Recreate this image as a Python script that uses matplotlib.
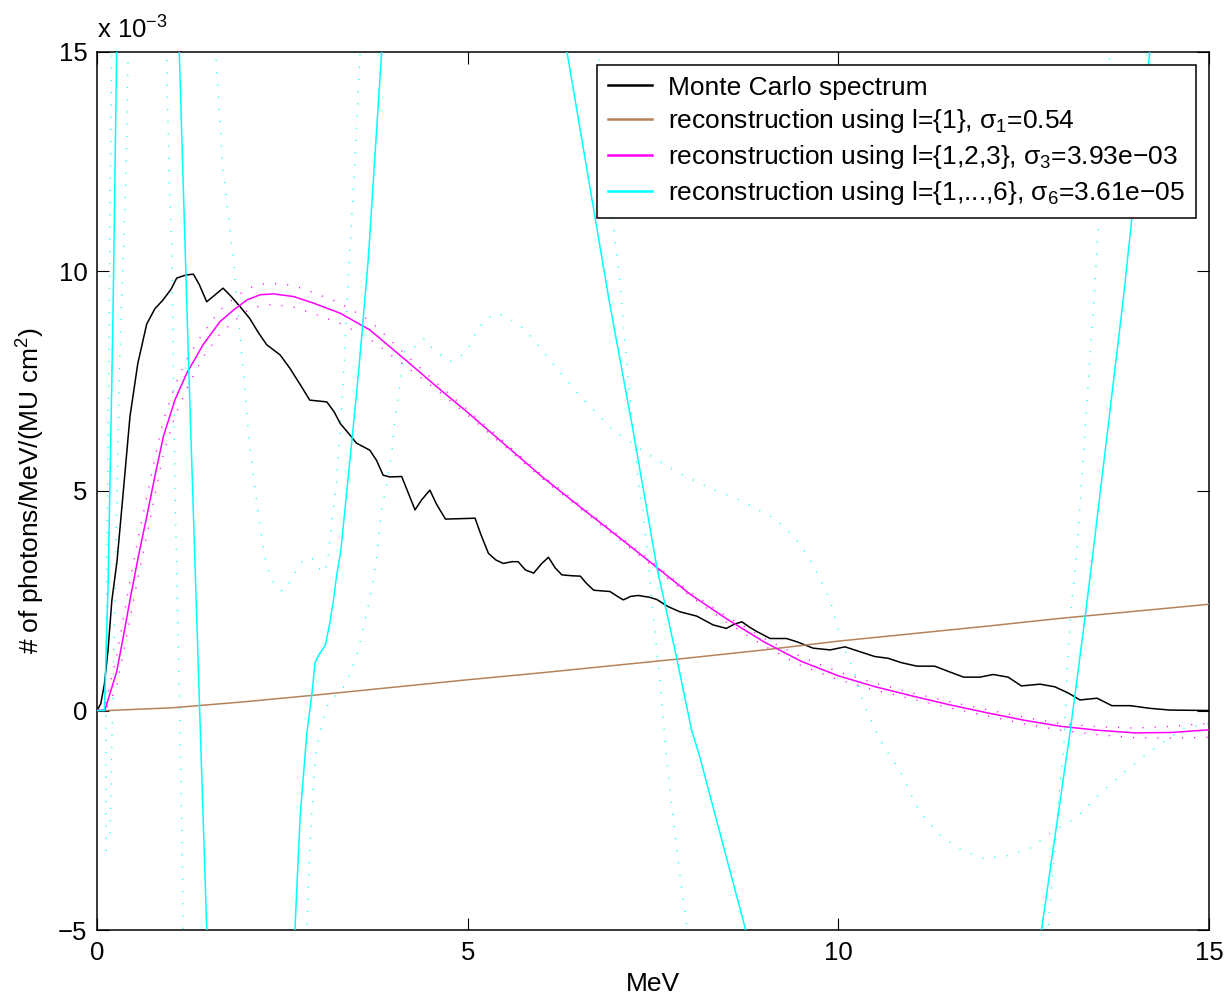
import matplotlib
matplotlib.use("Agg")
import matplotlib.pyplot as plt

plt.rcParams['font.family'] = ['Liberation Sans', 'DejaVu Sans']
plt.rcParams['mathtext.fontset'] = 'custom'
plt.rcParams['mathtext.rm'] = 'Liberation Sans'
plt.rcParams['mathtext.it'] = 'Liberation Sans'
plt.rcParams['mathtext.bf'] = 'Liberation Sans:bold'

# ---------------- data (y in units of 1e-3) ----------------
mc_x = [0, 0.05, 0.1, 0.15, 0.2, 0.27, 0.35, 0.445, 0.55, 0.67, 0.78, 0.89, 1.0, 1.075,
        1.2, 1.30, 1.38, 1.48, 1.58, 1.70, 1.80, 1.93, 2.06, 2.18, 2.29, 2.47, 2.6, 2.75,
        2.87, 3.10, 3.2, 3.28, 3.4, 3.50, 3.68, 3.77, 3.86, 3.95, 4.11, 4.2, 4.29, 4.38,
        4.49, 4.58, 4.70, 4.9, 5.10, 5.18, 5.28, 5.38, 5.48, 5.6, 5.68, 5.78, 5.89, 6.0,
        6.09, 6.18, 6.27, 6.40, 6.52, 6.60, 6.70, 6.92, 7.02, 7.10, 7.20, 7.30, 7.45,
        7.55, 7.70, 7.86, 8.09, 8.2, 8.31, 8.49, 8.60, 8.70, 8.80, 8.90, 9.08, 9.30,
        9.45, 9.66, 9.89, 10.09, 10.29, 10.49, 10.67, 10.85, 11.06, 11.30, 11.5, 11.69,
        11.91, 12.09, 12.29, 12.47, 12.72, 12.92, 13.1, 13.26, 13.49, 13.69, 13.94,
        14.2, 14.47, 15.0]
mc_y = [0, 0.15, 0.6, 1.4, 2.5, 3.4, 4.9, 6.7, 7.9, 8.8, 9.15, 9.35, 9.6, 9.85,
        9.92, 9.94, 9.7, 9.31, 9.45, 9.62, 9.45, 9.2, 8.93, 8.6, 8.33, 8.10, 7.8, 7.4,
        7.07, 7.03, 6.8, 6.54, 6.3, 6.09, 5.93, 5.7, 5.36, 5.32, 5.33, 4.95, 4.57, 4.8,
        5.02, 4.7, 4.36, 4.37, 4.38, 4.0, 3.58, 3.43, 3.35, 3.39, 3.39, 3.2, 3.13, 3.35,
        3.49, 3.25, 3.09, 3.07, 3.06, 2.9, 2.74, 2.71, 2.6, 2.52, 2.6, 2.62, 2.58,
        2.53, 2.37, 2.25, 2.15, 2.05, 1.95, 1.87, 1.97, 2.02, 1.9, 1.80, 1.64, 1.64,
        1.56, 1.42, 1.38, 1.45, 1.34, 1.23, 1.19, 1.09, 1.01, 1.01, 0.88, 0.76,
        0.76, 0.82, 0.76, 0.56, 0.60, 0.54, 0.4, 0.24, 0.28, 0.11, 0.11,
        0.05, 0.01, 0.0]

l1_x = [0, 0.15, 1, 2, 3, 4, 5, 6, 7, 8, 9, 10, 11, 12, 13, 14, 15]
l1_y = [0, 0, 0.06, 0.2, 0.36, 0.53, 0.7, 0.86, 1.03, 1.2, 1.38, 1.58, 1.75, 1.92, 2.1, 2.26, 2.42]

l3_x = [0, 0.108, 0.175, 0.265, 0.355, 0.445, 0.557, 0.67, 0.78, 0.895,
        1.05, 1.21, 1.43, 1.66, 1.84, 2.02, 2.20, 2.38, 2.65, 2.92,
        3.28, 3.68, 4.2, 4.6, 5.0, 6.0, 6.5, 7.0, 7.5, 8.0,
        8.5, 9.0, 9.5, 10.0, 10.5, 11.0, 11.5, 12.0, 12.5, 13.0,
        13.5, 14.0, 14.5, 15.0]
l3_y = [0, 0.01, 0.39, 0.88, 1.68, 2.52, 3.50, 4.41, 5.33, 6.24,
        7.07, 7.68, 8.33, 8.86, 9.12, 9.35, 9.47, 9.49, 9.43, 9.28,
        9.05, 8.67, 7.93, 7.35, 6.79, 5.33, 4.66, 4.0, 3.33, 2.65,
        2.08, 1.56, 1.12, 0.79, 0.54, 0.33, 0.13, -0.05, -0.22, -0.36,
        -0.45, -0.51, -0.50, -0.44]
l3_up = [0, 0.1, 0.6, 1.25, 2.1, 2.95, 3.95, 4.85, 5.75, 6.6,
         7.4, 8.0, 8.6, 9.12, 9.38, 9.6, 9.71, 9.73, 9.68, 9.52,
         9.28, 8.88, 8.05, 7.43, 6.85, 5.37, 4.70, 4.04, 3.37, 2.70,
         2.14, 1.64, 1.22, 0.88, 0.62, 0.40, 0.20, 0.02, -0.15, -0.30,
         -0.37, -0.40, -0.36, -0.29]
l3_lo = [0, 0, 0.2, 0.55, 1.3, 2.1, 3.05, 3.97, 4.9, 5.85,
         6.7, 7.33, 8.05, 8.58, 8.86, 9.1, 9.22, 9.25, 9.19, 9.04,
         8.82, 8.46, 7.8, 7.28, 6.73, 5.29, 4.62, 3.96, 3.28, 2.60,
         2.0, 1.47, 1.02, 0.70, 0.46, 0.26, 0.06, -0.12, -0.30, -0.45,
         -0.55, -0.62, -0.63, -0.61]

l6_x = [0, 0.1, 0.15, 0.2, 0.22, 0.265, 0.5, 0.8, 1.0, 1.11, 1.23, 1.48, 1.8, 2.3, 2.67,
        2.74, 2.83, 2.90, 2.94, 2.99, 3.08, 3.14, 3.19, 3.23, 3.29, 3.4, 3.5, 3.57, 3.66,
        3.84, 4.5, 5.5, 6.34, 6.91, 7.23, 7.55, 7.82, 8.02, 8.13, 8.75, 9.5, 10.8, 12.0,
        12.74, 13.13, 13.33, 13.44, 13.84, 14.2, 15.0]
l6_y = [0, 0, 2.9, 7.5, 9.5, 15, 30, 32, 25, 15, 8.2, -5, -14, -14, -5,
        -2.42, -0.52, 0.39, 1.08, 1.26, 1.49, 1.99, 2.52, 3.05, 3.66, 5.5, 7.2, 8.5, 10.3,
        15, 35, 38, 15, 9.32, 6.39, 3.28, 1.19, -0.44, -1.05, -5, -18, -22, -15,
        -5, -0.44, 2.14, 3.66, 9.32, 15, 30]

l6_b1_x = [0.12, 0.12, 0.13, 0.16, 0.18, 0.2, 0.55, 0.94, 0.97, 1.01, 1.05, 1.09, 1.12, 1.15,
           1.16, 2.0, 2.83, 2.87, 2.92, 2.96, 3.03, 3.12, 3.23, 3.34, 3.41, 3.52, 3.59, 3.66,
           3.72, 3.77, 3.84, 3.91, 3.98, 4.02, 4.09, 4.15, 4.29, 4.42, 4.54, 4.76, 4.90,
           5.01, 5.14, 5.26, 5.39, 5.53, 5.66, 5.80, 6.20, 6.52, 6.74, 6.96, 7.41, 7.84,
           8.27, 8.72, 9.17, 9.42, 9.60, 9.75, 9.89, 10.02, 10.13, 10.20, 10.34, 10.47,
           10.61, 10.83, 11.08, 11.39, 11.66, 11.96, 12.27, 12.58, 12.86, 13.22, 13.58,
           13.94, 14.32, 14.65, 15.0]
l6_b1_y = [-3.2, 0, 3, 8, 12.2, 15, 30, 15, 12.3, 10.5, 5.2, 2.0, -0.44, -3.3,
           -5, -15, -5, -3.18, -1.66, -0.9, -0.33, 0.16, 0.37, 0.56, 0.81, 1.34, 1.87, 2.40,
           2.93, 3.49, 4.57, 5.18, 5.93, 6.69, 7.45, 8.21, 8.29, 8.48, 8.21, 7.95, 8.06,
           8.25, 8.71, 8.93, 9.05, 8.97, 8.82, 8.63, 7.80, 7.16, 6.77, 6.39, 5.86, 5.42,
           5.06, 4.76, 4.34, 3.92, 3.50, 3.01, 2.52, 1.72, 1.19, 0.96, 0.16, -0.33,
           -0.82, -1.36, -2.27, -2.87, -3.18, -3.37, -3.31, -3.14, -2.80, -2.42, -1.81,
           -1.28, -0.79, -0.41, -0.29]

l6_b2_x = [0.175, 0.21, 0.24, 0.31, 0.39, 0.42, 1.0, 1.6, 1.70, 1.84, 2.06, 2.18, 2.29, 2.40,
           2.51, 2.60, 2.68, 2.77, 2.90, 2.99, 3.07, 3.11, 3.17, 3.23, 3.32, 3.41, 3.48,
           3.55, 5.1, 6.76, 6.96, 7.05, 7.12, 7.21, 7.30, 7.37, 7.46, 7.50, 7.57, 7.64,
           7.68, 7.82, 7.95, 7.96, 10.4, 12.83, 12.90, 12.99, 13.04, 13.10, 13.15, 13.21,
           13.45, 13.51, 13.66, 15.0]
l6_b2_y = [-2.8, 0, 2.5, 8.2, 12.1, 15, 30, 15, 12.3, 10.3, 6.0, 4.4, 3.28, 2.85,
           2.71, 2.93, 3.16, 3.41, 3.47, 3.24, 3.14, 3.41, 4.3, 5.18, 7.45, 10.49, 12.5,
           15, 40, 15, 11.17, 9.8, 8.44, 6.77, 5.25, 4.49, 2.97, 2.21, 1.08, -0.22,
           -1.04, -3.18, -4.85, -5, -25, -4.96, -3.56, -1.66, -0.9, 1.38, 2.52, 3.43,
           9.42, 11.07, 14.9, 40]

labels = ['Monte Carlo spectrum',
          r'reconstruction using l={1}, $\sigma_1$=0.54',
          r'reconstruction using l={1,2,3}, $\sigma_3$=3.93e$-$03',
          r'reconstruction using l={1,...,6}, $\sigma_6$=3.61e$-$05']
x_ticks = [0, 5, 10, 15]
y_ticks = [-5, 0, 5, 10, 15]

# ---------------- figure ----------------
fig = plt.figure(figsize=(12.31, 9.96), dpi=100)
ax = fig.add_axes([97 / 1231, 66 / 996, 1112 / 1231, 878 / 996])

cyan = '#00ffff'
magenta = '#ff00ff'
brown = '#b5835a'
dot = (0, (0.8, 8))

ax.plot(l6_b1_x, l6_b1_y, color=cyan, lw=1.0, ls=dot, zorder=1)
ax.plot(l6_b2_x, l6_b2_y, color=cyan, lw=1.0, ls=dot, zorder=1)
ax.plot(l3_x, l3_up, color=magenta, lw=1.0, ls=dot, zorder=1)
ax.plot(l3_x, l3_lo, color=magenta, lw=1.0, ls=dot, zorder=1)

h0, = ax.plot(mc_x, mc_y, color='black', lw=1.1, zorder=3, label=labels[0])
h1, = ax.plot(l1_x, l1_y, color=brown, lw=1.1, zorder=3, label=labels[1])
h2, = ax.plot(l3_x, l3_y, color=magenta, lw=1.1, zorder=3, label=labels[2])
h3, = ax.plot(l6_x, l6_y, color=cyan, lw=1.1, zorder=3, label=labels[3])

ax.set_xlim(0, 15)
ax.set_ylim(-5, 15)
ax.set_xticks(x_ticks)
ax.set_yticks(y_ticks)
ax.tick_params(direction='in', length=8.5, width=0.8, top=True, right=True,
               labelsize=18.5, pad=7)
ax.tick_params(axis='x', pad=8)
for s in ax.spines.values():
    s.set_linewidth(1.1)

ax.set_xlabel('MeV', fontsize=19)
ax.xaxis.set_label_coords(0.5, -0.048)
ax.set_ylabel('# of photons/MeV/(MU cm$^2$)', fontsize=19)
ax.yaxis.set_label_coords(-0.045, 0.5)

ax.text(0.0, 1.015, r'x 10$^{-3}$', transform=ax.transAxes, fontsize=18.5,
        ha='left', va='baseline')

leg = ax.legend(handles=[h0, h1, h2, h3], loc='upper right',
                bbox_to_anchor=(0.9883, 0.9852), borderaxespad=0, fontsize=19,
                handlelength=1.7, handletextpad=0.6, labelspacing=0.3,
                borderpad=0.4, fancybox=False, framealpha=1)
leg.get_frame().set_edgecolor('black')
leg.get_frame().set_linewidth(1.1)
for lh in leg.get_lines():
    lh.set_linewidth(1.8)

fig.savefig('out.png', dpi=100)
